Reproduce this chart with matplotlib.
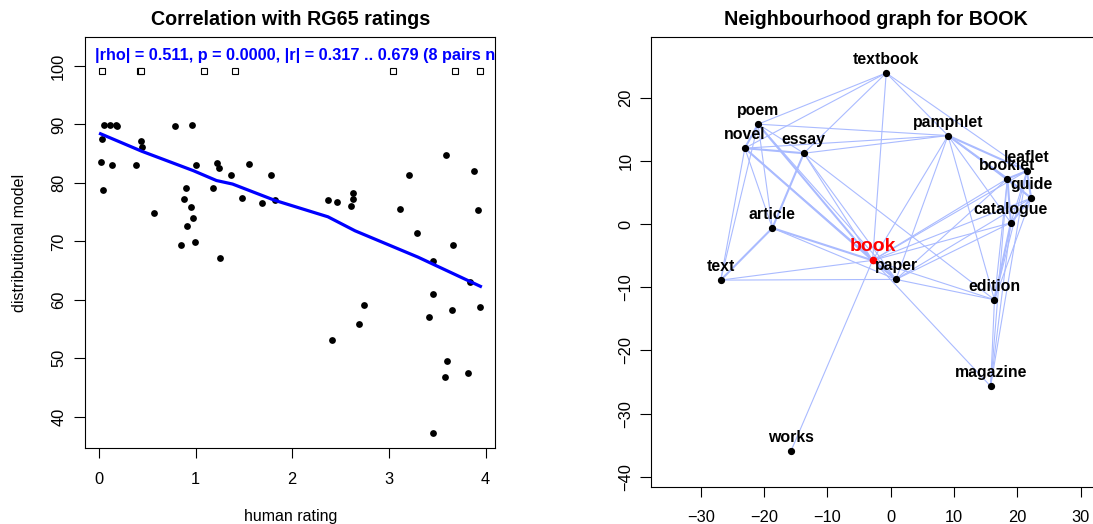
import numpy as np
import matplotlib
matplotlib.use('Agg')
import matplotlib.pyplot as plt

plt.rcParams['font.family'] = ['Liberation Sans', 'DejaVu Sans']

# left panel: human rating vs distributional model (57 pairs found)
human = [0.018, 0.036, 0.047, 0.058, 0.112, 0.137, 0.18, 0.187, 0.389, 0.439,
         0.446, 0.569, 0.788, 0.846, 0.878, 0.900, 0.911, 0.954, 0.968, 0.972,
         0.990, 1.001, 1.181, 1.220, 1.239, 1.257, 1.372, 1.480, 1.548, 1.692,
         1.779, 1.822, 2.369, 2.459, 2.610, 2.632, 2.632, 3.111, 3.212, 3.291,
         3.46, 3.593, 3.658, 3.881, 3.921, 3.838, 3.453, 2.743, 2.689, 2.409,
         3.41, 3.651, 3.942, 3.60, 3.579, 3.82, 3.46]
model = [83.5, 87.5, 78.7, 89.9, 89.9, 83.0, 89.9, 89.7, 83.1, 87.2,
         86.2, 74.9, 89.8, 69.3, 77.3, 79.1, 72.7, 75.8, 89.9, 74.0,
         69.9, 83.1, 79.1, 83.4, 82.6, 67.1, 81.3, 77.4, 83.3, 76.6,
         81.4, 77.0, 77.0, 76.7, 76.0, 78.3, 77.3, 75.6, 81.4, 71.4,
         66.6, 84.8, 69.3, 82.1, 75.3, 63.0, 61.0, 59.1, 55.8, 53.1,
         57.1, 58.3, 58.8, 49.5, 46.8, 47.4, 37.2]
# pairs not found in the model
missing_x = [0.036, 0.421, 0.436, 1.091, 1.411, 3.042, 3.68, 3.942]
missing_y = 99.1
# lowess smoother
smooth_x = [0.018, 0.446, 0.976, 1.217, 1.383, 1.822, 2.369, 2.65, 3.30, 3.946]
smooth_y = [88.4, 85.4, 82.1, 80.4, 79.8, 77.0, 74.2, 71.8, 67.3, 62.3]
stats_text = '|rho| = 0.511, p = 0.0000, |r| = 0.317 .. 0.679 (8 pairs not found)'

# right panel: neighbourhood graph
words = ['textbook', 'poem', 'novel', 'essay', 'pamphlet', 'booklet', 'leaflet',
         'guide', 'catalogue', 'article', 'book', 'text', 'paper', 'edition',
         'magazine', 'works']
wx = [-0.72, -20.96, -23.05, -13.73, 9.04, 18.42, 21.5, 22.17, 18.97, -18.7,
      -2.87, -26.86, 0.83, 16.38, 15.77, -15.77]
wy = [23.9, 15.8, 12.0, 11.2, 14.0, 7.18, 8.4, 4.1, 0.2, -0.63,
      -5.75, -8.87, -8.76, -11.98, -25.65, -35.94]
thin_edges = [
    ('textbook', 'poem'), ('textbook', 'novel'), ('textbook', 'essay'),
    ('textbook', 'book'), ('textbook', 'pamphlet'), ('textbook', 'leaflet'),
    ('poem', 'essay'), ('poem', 'pamphlet'), ('novel', 'pamphlet'),
    ('essay', 'pamphlet'), ('poem', 'article'), ('novel', 'article'),
    ('novel', 'text'), ('poem', 'text'), ('poem', 'paper'), ('novel', 'paper'),
    ('essay', 'book'), ('essay', 'paper'), ('essay', 'edition'),
    ('article', 'paper'), ('text', 'book'), ('text', 'paper'),
    ('works', 'book'), ('book', 'magazine'), ('pamphlet', 'book'),
    ('pamphlet', 'paper'), ('pamphlet', 'edition'), ('pamphlet', 'catalogue'),
    ('pamphlet', 'guide'), ('book', 'booklet'), ('book', 'catalogue'),
    ('book', 'guide'), ('book', 'leaflet'), ('paper', 'booklet'),
    ('paper', 'catalogue'), ('paper', 'guide'), ('book', 'edition'),
    ('paper', 'edition'), ('edition', 'booklet'), ('edition', 'guide'),
    ('edition', 'leaflet'), ('magazine', 'edition'), ('magazine', 'booklet'),
    ('magazine', 'catalogue'), ('magazine', 'leaflet'), ('leaflet', 'catalogue'),
]
thick_edges = [
    ('poem', 'novel'), ('novel', 'essay'), ('essay', 'article'),
    ('article', 'text'), ('novel', 'book'), ('poem', 'book'),
    ('article', 'book'), ('book', 'paper'), ('pamphlet', 'booklet'),
    ('pamphlet', 'leaflet'), ('booklet', 'leaflet'), ('booklet', 'catalogue'),
    ('booklet', 'guide'), ('leaflet', 'guide'), ('guide', 'catalogue'),
    ('edition', 'catalogue'),
]

fig = plt.figure(figsize=(10.93, 5.24), dpi=100)

# ---- left panel
ax = fig.add_axes([0.0780, 0.1456, 0.3749, 0.7832])
ax.scatter(human, model, s=24, color='black', zorder=3, linewidths=0)
ax.plot(missing_x, [missing_y] * len(missing_x), linestyle='none', marker='s',
        markersize=4.4, markerfacecolor='white', markeredgecolor='black',
        markeredgewidth=0.8)
ax.plot(smooth_x, smooth_y, color='#0000ff', lw=2.3, zorder=4)
ax.text(-0.043, 101.1, stats_text, color='#0000ff', fontsize=11.7,
        fontweight='bold', va='baseline', ha='left', clip_on=True)
ax.set_xlim(-0.140, 4.097)
ax.set_ylim(34.7, 104.9)
ax.set_xticks([0, 1, 2, 3, 4])
ax.set_yticks([40, 50, 60, 70, 80, 90, 100])
ax.tick_params(axis='x', length=7, pad=10.5, labelsize=11.8, width=0.8)
ax.tick_params(axis='y', length=8.2, pad=5.5, labelsize=11.8, width=0.8,
               labelrotation=90)
for lab in ax.get_yticklabels():
    lab.set_va('center')
for sp in ax.spines.values():
    sp.set_linewidth(0.8)
fig.text(290.2 / 1093, 1 - 25 / 524, 'Correlation with RG65 ratings',
         fontsize=14.2, fontweight='bold', ha='center', va='baseline')
fig.text(290.2 / 1093, 1 - 521 / 524, 'human rating', fontsize=11.5,
         ha='center', va='baseline')
fig.text(24.4 / 1093, 1 - 242.5 / 524, 'distributional model', fontsize=11.5,
         rotation=90, rotation_mode='anchor', ha='center', va='baseline')

# ---- right panel
ax2 = fig.add_axes([0.5960, 0.0706, 0.4113, 0.8582])
pos = {w: (x, y) for w, x, y in zip(words, wx, wy)}
for a, b in thin_edges:
    ax2.plot([pos[a][0], pos[b][0]], [pos[a][1], pos[b][1]],
             color='#aabbff', lw=0.8, zorder=1)
for a, b in thick_edges:
    ax2.plot([pos[a][0], pos[b][0]], [pos[a][1], pos[b][1]],
             color='#aabbff', lw=1.5, zorder=1)
for w, x, y in zip(words, wx, wy):
    if w == 'book':
        ax2.plot(x, y, 'o', color='red', markersize=4.5, zorder=3)
        ax2.annotate(w, (x, y), xytext=(0, 6.8), textcoords='offset points',
                     ha='center', va='baseline', fontsize=14,
                     fontweight='bold', color='red', zorder=4)
    else:
        ax2.plot(x, y, 'o', color='black', markersize=4.2, zorder=3)
        ax2.annotate(w, (x, y), xytext=(0, 6.5), textcoords='offset points',
                     ha='center', va='baseline', fontsize=11.4,
                     fontweight='bold', color='black', zorder=4)
ax2.set_xlim(-37.8, 33.2)
ax2.set_ylim(-41.6, 29.54)
ax2.set_xticks([-30, -20, -10, 0, 10, 20, 30])
ax2.set_yticks([-40, -30, -20, -10, 0, 10, 20])
ax2.tick_params(axis='x', length=7, pad=9.5, labelsize=11.8, width=0.8)
ax2.tick_params(axis='y', length=8, pad=5, labelsize=11.8, width=0.8,
                labelrotation=90)
for lab in ax2.get_yticklabels():
    lab.set_va('center')
for sp in ax2.spines.values():
    sp.set_linewidth(0.8)
fig.text(876.2 / 1093, 1 - 25 / 524, 'Neighbourhood graph for BOOK',
         fontsize=14.2, fontweight='bold', ha='center', va='baseline')

fig.savefig('out.png', dpi=100)
